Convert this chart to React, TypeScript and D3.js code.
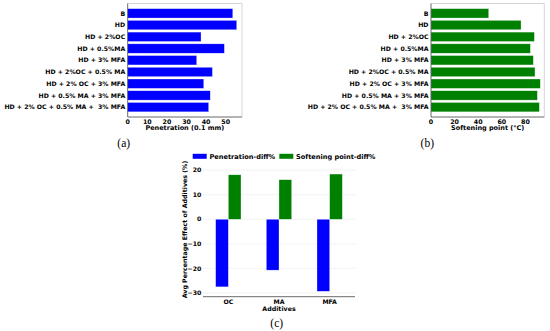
import * as React from "react";
import * as d3 from "d3";

const mixes = [
  "B",
  "HD",
  "HD + 2%OC",
  "HD + 0.5%MA",
  "HD + 3% MFA",
  "HD + 2%OC + 0.5% MA",
  "HD + 2% OC + 3% MFA",
  "HD + 0.5% MA + 3% MFA",
  "HD + 2% OC + 0.5% MA +  3% MFA",
];
const penetration = [53.6, 55.6, 37.4, 49.3, 35.2, 43.2, 38.8, 42.1, 41.3];
const softening = [48.9, 76.3, 87.6, 84.2, 86.7, 88.1, 92.6, 90.1, 91.8];
const penTicks = [0, 10, 20, 30, 40, 50];
const softTicks = [0, 20, 40, 60, 80];

const additives = ["OC", "MA", "MFA"];
const penDiff = [-27.5, -20.7, -29.3];
const softDiff = [18.1, 16.1, 18.4];
const diffTicks = [20, 10, 0, -10, -20, -30];

const font = "'DejaVu Sans', sans-serif";
const BLUE = "#0000ff";
const GREEN = "#008000";

type HProps = {
  left: number;
  right: number;
  values: number[];
  max: number;
  ticks: number[];
  color: string;
  title: string;
  caption: string;
  captionX: number;
};

const HBars = (props: HProps) => {
  const { left, right, values, max, ticks, color, title, caption, captionX } = props;
  const top = 3.5;
  const bottom = 117;
  const x = d3.scaleLinear().domain([0, max]).range([left, right]);
  const y = d3
    .scaleBand<string>()
    .domain(mixes)
    .range([top, bottom])
    .paddingInner(0.2)
    .paddingOuter(0.44);

  return (
    <g>
      {values.map((v, i) => (
        <rect
          key={i}
          x={x(0)}
          y={y(mixes[i])}
          width={x(v) - x(0)}
          height={y.bandwidth()}
          fill={color}
          stroke="#ffffff"
          strokeOpacity={0.6}
          strokeWidth={0.5}
        />
      ))}
      <line x1={left} x2={right} y1={top} y2={top} stroke="#cccccc" strokeWidth={0.8} />
      <line x1={right} x2={right} y1={top} y2={bottom} stroke="#cccccc" strokeWidth={0.8} />
      <line x1={left} x2={left} y1={top} y2={bottom} stroke="#444" strokeWidth={0.8} />
      <line x1={left} x2={right} y1={bottom} y2={bottom} stroke="#444" strokeWidth={0.8} />
      {mixes.map((m) => (
        <text
          key={m}
          x={left - 2.5}
          y={(y(m) as number) + y.bandwidth() / 2}
          dy="0.35em"
          textAnchor="end"
          fontSize={6.2}
          fontWeight="bold"
          fontFamily={font}
          style={{ whiteSpace: "pre" }}
        >
          {m}
        </text>
      ))}
      {ticks.map((t) => (
        <text
          key={t}
          x={x(t)}
          y={bottom + 4.7}
          dy="0.35em"
          textAnchor="middle"
          fontSize={6.3}
          fontWeight="bold"
          fontFamily={font}
        >
          {t}
        </text>
      ))}
      <text
        x={(left + right) / 2}
        y={bottom + 10.5}
        dy="0.35em"
        textAnchor="middle"
        fontSize={6.5}
        fontWeight="bold"
        fontFamily={font}
      >
        {title}
      </text>
      <text
        x={captionX}
        y={147.3}
        textAnchor="middle"
        fontSize={11.5}
        fontFamily="'Liberation Serif', 'Times New Roman', serif"
      >
        {caption}
      </text>
    </g>
  );
};

const GroupedBars = () => {
  const left = 203;
  const right = 355;
  const x = d3.scaleBand<string>().domain(additives).range([left, right]).padding(0);
  const y = d3.scaleLinear().domain([-31.5, 20.7]).range([296.7, 168.4]);
  const w = x.bandwidth() * 0.25;
  const cx = (c: string) => (x(c) as number) + x.bandwidth() / 2;

  return (
    <g>
      {diffTicks.map((t) => (
        <g key={t}>
          <line x1={left} x2={right} y1={y(t)} y2={y(t)} stroke="#ebebeb" strokeWidth={0.6} />
          <text
            x={201.3}
            y={y(t)}
            dy="0.35em"
            textAnchor="end"
            fontSize={6.2}
            fontWeight="bold"
            fontFamily={font}
          >
            {t < 0 ? `\u2212${Math.abs(t)}` : t}
          </text>
        </g>
      ))}
      {additives.map((a, i) => (
        <g key={a}>
          <rect
            x={cx(a) - w}
            y={y(Math.max(0, penDiff[i]))}
            width={w}
            height={Math.abs(y(penDiff[i]) - y(0))}
            fill={BLUE}
            stroke="#ffffff"
            strokeOpacity={0.6}
            strokeWidth={0.5}
          />
          <rect
            x={cx(a)}
            y={y(Math.max(0, softDiff[i]))}
            width={w}
            height={Math.abs(y(softDiff[i]) - y(0))}
            fill={GREEN}
            stroke="#ffffff"
            strokeOpacity={0.6}
            strokeWidth={0.5}
          />
          <text
            x={cx(a)}
            y={302.3}
            dy="0.35em"
            textAnchor="middle"
            fontSize={6.2}
            fontWeight="bold"
            fontFamily={font}
          >
            {a}
          </text>
        </g>
      ))}
      <line x1={left} x2={right} y1={296.7} y2={296.7} stroke="#444" strokeWidth={0.8} />
      <text
        x={(left + right) / 2}
        y={308.5}
        dy="0.35em"
        textAnchor="middle"
        fontSize={6.3}
        fontWeight="bold"
        fontFamily={font}
      >
        Additives
      </text>
      <text
        transform={`translate(184.5, ${(168.4 + 296.7) / 2 - 3}) rotate(-90)`}
        dy="0.35em"
        textAnchor="middle"
        fontSize={6.3}
        fontWeight="bold"
        fontFamily={font}
      >
        Avg Percentage Effect of Additives (%)
      </text>

      <rect x={192.7} y={153.8} width={14} height={5} fill={BLUE} />
      <text x={209.5} y={156.3} dy="0.35em" fontSize={6.6} fontWeight="bold" fontFamily={font}>
        Penetration-diff%
      </text>
      <rect x={279.3} y={153.8} width={14} height={5} fill={GREEN} />
      <text x={296} y={156.3} dy="0.35em" fontSize={6.6} fontWeight="bold" fontFamily={font}>
        Softening point-diff%
      </text>

      <text
        x={276.7}
        y={326.5}
        textAnchor="middle"
        fontSize={11.5}
        fontFamily="'Liberation Serif', 'Times New Roman', serif"
      >
        (c)
      </text>
    </g>
  );
};

export default function App() {
  return (
    <svg
      width={550}
      height={331}
      style={{ position: "absolute", left: 0, top: 0, background: "#ffffff" }}
    >
      <HBars
        left={127.7}
        right={242}
        values={penetration}
        max={58.3}
        ticks={penTicks}
        color={BLUE}
        title="Penetration (0.1 mm)"
        caption="(a)"
        captionX={123.7}
      />
      <HBars
        left={431}
        right={544.3}
        values={softening}
        max={96}
        ticks={softTicks}
        color={GREEN}
        title="Softening point (°C)"
        caption="(b)"
        captionX={427.3}
      />
      <GroupedBars />
    </svg>
  );
}
